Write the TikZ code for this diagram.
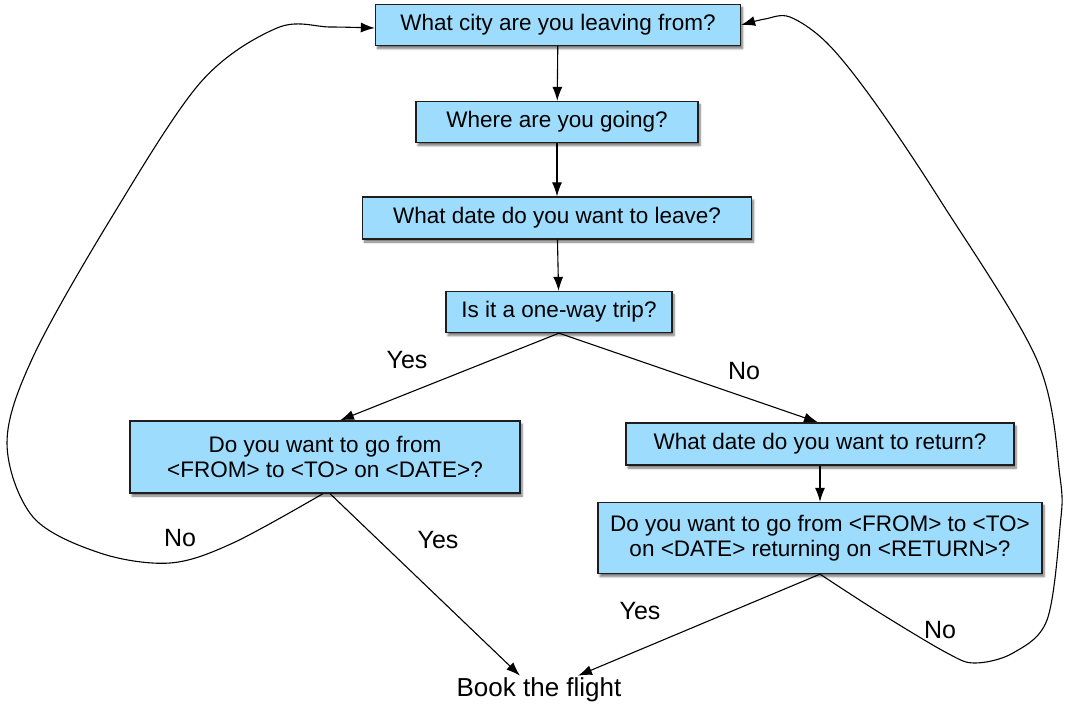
\documentclass[tikz,border=0pt]{standalone}
\usepackage{fontspec}
\setmainfont{Liberation Sans}
\usetikzlibrary{arrows.meta,shadows.blur}
\definecolor{boxblue}{HTML}{9DDCFD}
\definecolor{boxline}{HTML}{1E1E1E}

\begin{document}
\begin{tikzpicture}[x=1pt,y=-1pt,
  qbox/.style={draw=boxline,line width=1.3pt,fill=boxblue,inner sep=0pt,align=center,
    font=\fontsize{22.5}{27}\selectfont,
    blur shadow={shadow xshift=2pt,shadow yshift=-3pt,shadow blur steps=6,shadow opacity=55}},
  flow/.style={-{Latex[length=14pt,width=10pt]},line width=1.1pt},
  answer/.style={font=\fontsize{25}{30}\selectfont}]
\useasboundingbox (0,0) rectangle (1082,718);

% questions
\node[qbox,minimum width=365pt,minimum height=41pt] (from) at (558,25) {What city are you leaving from?};
\node[qbox,minimum width=282pt,minimum height=41pt] (to) at (557,122) {Where are you going?};
\node[qbox,minimum width=389pt,minimum height=42pt] (date) at (557,218) {What date do you want to leave?};
\node[qbox,minimum width=226pt,minimum height=41pt] (oneway) at (559,312) {Is it a one-way trip?};
\node[qbox,minimum width=390pt,minimum height=72pt] (confone) at (325,457) {Do you want to go from\\[-2pt]<FROM> to <TO> on <DATE>?};
\node[qbox,minimum width=388pt,minimum height=42pt] (ret) at (820,444) {What date do you want to return?};
\node[qbox,minimum width=444pt,minimum height=71pt] (confret) at (820,538) {Do you want to go from <FROM> to <TO>\\[-2pt]on <DATE> returning on <RETURN>?};
\node[answer,font=\fontsize{26}{30}\selectfont,inner sep=2pt] (book) at (539,690) {Book the flight};

% main flow
\draw[flow] (from) -- (to);
\draw[flow] (to) -- (date);
\draw[flow] (date) -- (oneway);
\draw[flow] (oneway.south) -- ([xshift=15pt]confone.north);
\draw[flow] (oneway.south) -- ([xshift=-2pt]ret.north);
\draw[flow] (ret) -- (confret);
\draw[flow] ([xshift=5pt]confone.south) -- ([xshift=-19pt]book.north);
\draw[flow] (confret.south) -- ([xshift=39pt]book.north);

% loops back to the start
\draw[flow] plot[smooth,tension=0.55] coordinates {([xshift=-2pt]confone.south) (233,543) (170,563) (100,553) (33,517) (7,443) (33,357) (110,220) (200,83) (277,28) (330,27) ([yshift=-3pt]from.west)};
\draw[flow] plot[smooth,tension=0.55] coordinates {(confret.south) (880,613) (947,653) (975,663) (1013,653) (1047,620) (1060,527) (1060,477) (1037,360) (940,200) (873,100) (827,43) (790,17) (765,19) (from.east)};

% answers
\node[answer] (yes1) at (407,360) {Yes};
\node[answer] (no1) at (744,371) {No};
\node[answer] (yes2) at (438,540) {Yes};
\node[answer] (no2) at (180,538) {No};
\node[answer] (yes3) at (640,611) {Yes};
\node[answer] (no3) at (940,630) {No};
\end{tikzpicture}
\end{document}
